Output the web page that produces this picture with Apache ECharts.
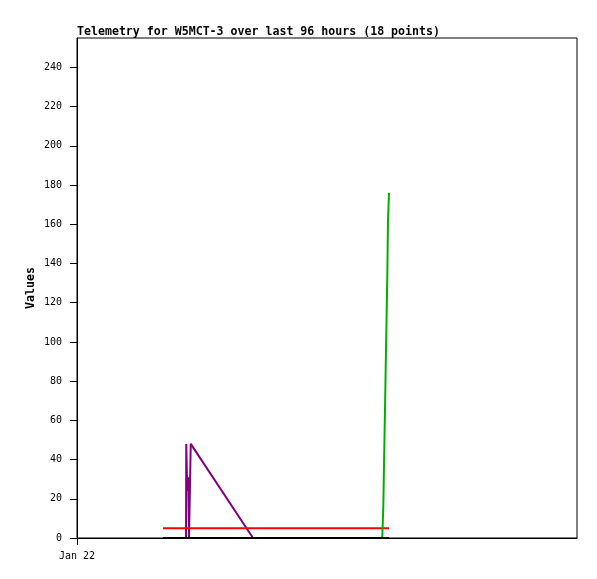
<!DOCTYPE html>
<html>
<head>
<meta charset="utf-8">
<script src="https://cdn.jsdelivr.net/npm/echarts@6/dist/echarts.min.js"></script>
<style>
html,body{margin:0;padding:0;background:#fff;}
#chart{width:597px;height:579px;}
</style>
</head>
<body>
<div id="chart"></div>
<script>
// time in hours since Jan 22 00:00
var times = [3.44, 4.36, 4.37, 4.41, 4.45, 4.48, 4.55, 7.04, 8.92, 10.52, 12.21, 12.25, 12.29, 12.33, 12.37, 12.41, 12.44, 12.48];
var black  = [0, 0, 0, 0, 0, 0, 0, 0, 0, 0, 0, 0, 0, 0, 0, 0, 0, 0];
var red    = [5, 5, 5, 5, 5, 5, 5, 5, 5, 5, 5, 5, 5, 5, 5, 5, 5, 5];
var purple = [0, 0, 48, 24, 31, 0, 48, 0, 0, 0, 0, 0, 0, 0, 0, 0, 0, 0];
var green  = [0, 0, 0, 0, 0, 0, 0, 0, 0, 0, 0, 15, 44, 73, 103, 132, 162, 176];
var yTicks = [0, 20, 40, 60, 80, 100, 120, 140, 160, 180, 200, 220, 240];
var xTicks = [0];
var xTickLabels = ['Jan 22'];

function pairs(vals){ return times.map(function(t,i){ return [t, vals[i]]; }); }
var font = 'DejaVu Sans Mono';
function ser(name, vals, color){
  return {name:name, type:'line', data:pairs(vals), showSymbol:false, symbol:'none',
    lineStyle:{color:color, width:2}, itemStyle:{color:color}, animation:false};
}
var chart = echarts.init(document.getElementById('chart'), null, {renderer:'canvas'});
chart.setOption({
  animation:false,
  backgroundColor:'#fff',
  title:{text:'Telemetry for W5MCT-3 over last 96 hours (18 points)', left:72, top:21,
    textStyle:{fontFamily:font, fontSize:11.6, fontWeight:'bold', color:'#000'}},
  grid:{left:77, top:38, right:20, bottom:41, show:true, borderColor:'#000', borderWidth:1},
  xAxis:{type:'value', min:0, max:20,
    axisLine:{show:true, lineStyle:{color:'#000', width:1}},
    axisTick:{show:true, length:7, lineStyle:{color:'#000'}, customValues:xTicks},
    axisLabel:{customValues:xTicks, margin:13, color:'#000', fontFamily:font, fontSize:10,
      formatter:function(v){ var i = xTicks.indexOf(v); return i>=0 ? xTickLabels[i] : ''; }},
    splitLine:{show:false}},
  yAxis:{type:'value', min:0, max:255, name:'Values', nameLocation:'middle', nameGap:40,
    nameMoveOverlap:false,
    nameTextStyle:{fontFamily:font, fontSize:11.6, fontWeight:'bold', color:'#000'},
    axisLine:{show:true, lineStyle:{color:'#000', width:1}},
    axisTick:{show:true, length:7, lineStyle:{color:'#000'}, customValues:yTicks},
    axisLabel:{customValues:yTicks, margin:15, color:'#000', fontFamily:font, fontSize:10},
    splitLine:{show:false}},
  series:[
    ser('purple', purple, '#800080'),
    ser('red', red, '#ff0000'),
    ser('green', green, '#00b000'),
    ser('black', black, '#000000')
  ]
});
</script>
</body>
</html>
